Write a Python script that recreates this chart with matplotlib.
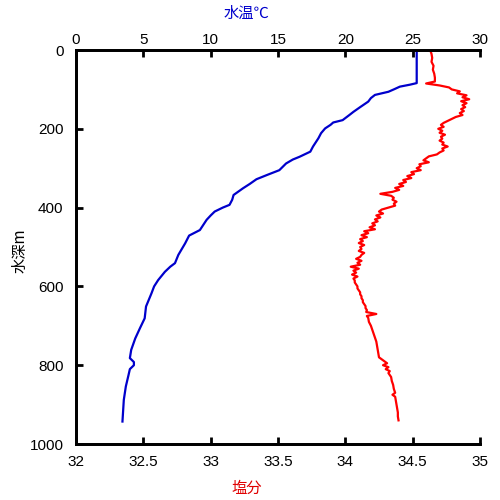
import matplotlib.pyplot as plt

# depth profile: water temperature (top axis) and salinity (bottom axis)
temp_depth = [0, 0, 84, 88, 93, 100, 106, 114, 122, 131, 145, 157, 165, 178, 184, 190,
              199, 211, 224, 245, 258, 271, 278, 288, 305, 317, 328, 340, 351, 368, 380,
              393, 400, 410, 420, 431, 457, 471, 491, 520, 541, 550, 563, 584, 600, 618,
              651, 681, 706, 732, 761, 782, 792, 800, 810, 825, 854, 888, 943]
temperature = [20.0, 25.3, 25.3, 24.8, 24.05, 23.6, 23.2, 22.2, 21.9, 21.7, 21.1, 20.6, 20.3,
               19.8, 19.1, 18.9, 18.5, 18.2, 18.0, 17.6, 17.4, 16.6, 16.1, 15.6, 15.1, 14.2,
               13.4, 12.9, 12.4, 11.7, 11.6, 11.4, 10.9, 10.3, 10.0, 9.7, 9.2, 8.4, 8.1, 7.6,
               7.35, 7.0, 6.6, 6.1, 5.8, 5.6, 5.2, 5.1, 4.75, 4.4, 4.1, 4.0, 4.3, 4.3, 4.0,
               3.9, 3.7, 3.55, 3.45]

sal_depth = [0, 10, 20, 30, 40, 50, 60, 70, 80, 85, 90, 95, 100, 105, 110, 115, 120, 125,
             130, 135, 140, 145, 150, 155, 160, 165, 170, 175, 180, 185, 190, 195, 200, 205,
             210, 215, 220, 225, 230, 235, 240, 245, 250, 255, 260, 265, 270, 275, 280, 285,
             290, 295, 300, 305, 310, 315, 320, 325, 330, 335, 340, 345, 350, 355, 360, 365,
             370, 375, 380, 385, 390, 395, 400, 405, 410, 415, 420, 425, 430, 435, 440, 445,
             450, 455, 460, 465, 470, 475, 480, 485, 490, 495, 500, 505, 510, 515, 520, 525,
             530, 535, 540, 545, 550, 555, 560, 565, 570, 575, 580, 585, 590, 595, 600, 605,
             610, 615, 620, 625, 630, 635, 640, 645, 650, 655, 660, 665, 670, 675, 680, 690,
             700, 710, 720, 730, 740, 750, 760, 770, 780, 790, 795, 800, 805, 810, 815, 820,
             830, 840, 850, 860, 870, 875, 880, 890, 900, 910, 920, 930, 940]
salinity = [34.63, 34.64, 34.645, 34.64, 34.655, 34.65, 34.66, 34.665, 34.665, 34.60, 34.70,
            34.77, 34.79, 34.85, 34.83, 34.90, 34.87, 34.92, 34.86, 34.90, 34.87, 34.89,
            34.86, 34.88, 34.85, 34.87, 34.82, 34.79, 34.76, 34.73, 34.71, 34.73, 34.69,
            34.72, 34.70, 34.74, 34.71, 34.72, 34.70, 34.73, 34.72, 34.76, 34.72, 34.73,
            34.70, 34.68, 34.62, 34.60, 34.58, 34.62, 34.55, 34.56, 34.53, 34.56, 34.49,
            34.51, 34.46, 34.49, 34.43, 34.45, 34.40, 34.43, 34.37, 34.40, 34.35, 34.26,
            34.34, 34.36, 34.35, 34.38, 34.36, 34.37, 34.32, 34.27, 34.25, 34.28, 34.23,
            34.26, 34.22, 34.24, 34.20, 34.22, 34.18, 34.22, 34.14, 34.17, 34.12, 34.16,
            34.11, 34.13, 34.10, 34.14, 34.11, 34.12, 34.10, 34.14, 34.12, 34.11, 34.08,
            34.12, 34.09, 34.11, 34.04, 34.10, 34.06, 34.08, 34.05, 34.09, 34.06, 34.07,
            34.07, 34.08, 34.09, 34.09, 34.10, 34.11, 34.11, 34.12, 34.12, 34.13, 34.13,
            34.14, 34.15, 34.15, 34.16, 34.155, 34.23, 34.16, 34.17, 34.175, 34.19, 34.20,
            34.21, 34.22, 34.23, 34.235, 34.24, 34.245, 34.25, 34.29, 34.31, 34.28, 34.32,
            34.30, 34.33, 34.32, 34.34, 34.345, 34.355, 34.36, 34.37, 34.35, 34.37, 34.375,
            34.38, 34.385, 34.39, 34.39, 34.395]

sal_ticks = [32, 32.5, 33, 33.5, 34, 34.5, 35]
temp_ticks = [0, 5, 10, 15, 20, 25, 30]
depth_ticks = [0, 200, 400, 600, 800, 1000]

plt.rcParams['font.family'] = ['Liberation Sans', 'Noto Sans CJK JP', 'DejaVu Sans']
jp_font = ['Noto Sans CJK JP', 'DejaVu Sans']

fig = plt.figure(figsize=(5, 5), dpi=100)
ax = fig.add_axes([0.152, 0.112, 0.808, 0.788])
ax.plot(salinity, sal_depth, color='#ff0000', lw=1.6)
ax.set_xlim(32, 35)
ax.set_ylim(1000, 0)
ax.set_xticks(sal_ticks)
ax.set_xticklabels([f'{t:g}' for t in sal_ticks])
ax.set_yticks(depth_ticks)
ax.set_xlabel('塩分', color='#e00000', family=jp_font, fontsize=11)
ax.xaxis.set_label_coords(0.423, -0.09)
ax.set_ylabel('水深m', family=jp_font, fontsize=11)
ax.yaxis.set_label_coords(-0.118, 0.49)

ax2 = ax.twiny()
ax2.plot(temperature, temp_depth, color='#0000cc', lw=1.6)
ax2.set_xlim(0, 30)
ax2.set_xticks(temp_ticks)
ax2.set_xlabel('水温℃', color='#0000cc', family=jp_font, fontsize=11)
ax2.xaxis.set_label_coords(0.423, 1.082)

for a in (ax, ax2):
    a.spines['right'].set_visible(False)
    for s in a.spines.values():
        s.set_linewidth(2)
    a.tick_params(direction='in', length=5, width=2, labelsize=11)

ax.tick_params(axis='x', pad=8)
ax.tick_params(axis='y', pad=9)
ax2.tick_params(axis='x', pad=2)

fig.savefig('out.png', dpi=100)
